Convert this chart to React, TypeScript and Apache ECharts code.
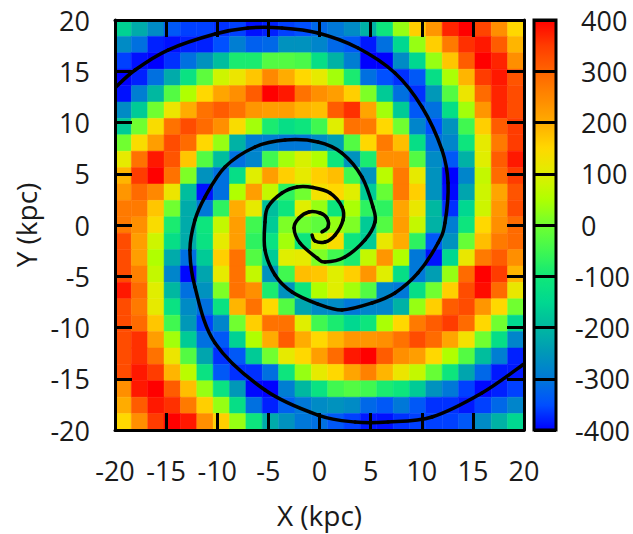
import React, { useEffect, useRef } from "react";
import * as echarts from "echarts";

const xTicks = { min: -20, max: 20, step: 5 };
const cbTicks = { min: -400, max: 400, step: 100 };
const cellSize = 1.6;
const axisFont = "'Open Sans', sans-serif";
const colorStops = [
  "#0000ff", "#0050ff", "#0078d8", "#0098b8", "#00b8a0", "#00d890", "#10e878", "#40f850", "#70ff30",
  "#b0ff00", "#e0ee00", "#ffd800", "#ffac00", "#ff8800", "#ff6400", "#ff3c00", "#ff0000",
];

// rows from top (y=+20) to bottom (y=-20), columns from x=-20 to x=+20
const heatRows = [
  [-160,-220,-270,-340,-360,-360,-370,-360,-390,-380,-360,-350,-320,-300,-270,-210,-110,30,160,230,370,400,340,240,150],
  [-270,-310,-380,-390,-380,-380,-350,-290,-330,-320,-260,-260,-280,-320,-340,-385,-310,-150,30,160,270,360,380,310,190],
  [-360,-390,-400,-370,-310,-260,-190,-90,-90,-30,-30,-40,-130,-210,-290,-400,-400,-270,-150,30,170,310,400,370,240],
  [-400,-380,-310,-220,-120,-20,80,120,170,250,200,150,110,40,-90,-310,-350,-370,-340,-130,45,190,350,380,320],
  [-390,-290,-200,-30,50,150,210,240,310,400,380,280,240,220,160,10,-170,-310,-370,-250,-30,120,290,370,330],
  [-270,-170,0,120,200,280,310,280,230,220,220,190,180,310,360,210,40,-170,-340,-310,-130,40,230,370,330],
  [-170,0,140,280,330,290,240,140,40,-90,-130,-110,-50,100,280,270,150,0,-280,-350,-260,-50,160,310,350],
  [0,140,220,330,290,150,30,-210,-290,-290,-300,-300,-270,-240,-30,150,270,180,-130,-310,-280,-110,110,270,350],
  [110,280,380,320,170,-30,-190,-310,-280,-50,40,90,50,-110,-260,-90,240,240,-30,-270,-340,-210,100,310,380],
  [190,350,400,280,10,-260,-310,-130,100,220,160,110,160,180,-50,-260,60,270,110,-260,-400,-280,70,290,350],
  [230,290,250,120,-190,-390,-310,50,220,70,-70,0,130,150,100,-170,-10,270,160,-260,-395,-230,80,210,320],
  [270,270,170,0,-220,-300,-70,200,110,-190,-110,100,30,-110,45,-70,-70,210,115,-200,-370,-150,80,230,330],
  [270,240,140,-90,-220,-110,70,220,-50,-170,10,0,-20,30,10,-170,-30,220,70,-210,-290,-110,150,240,290],
  [330,220,80,-130,-220,-120,110,220,-70,-120,40,-110,80,140,-110,-170,115,200,-70,-340,-260,-10,180,270,290],
  [330,220,50,-220,-310,-170,160,280,-30,-170,100,110,10,-50,-90,70,230,50,-300,-390,-150,115,270,310,240],
  [330,260,70,-280,-395,-230,110,280,70,-260,-50,180,170,100,160,230,100,-130,-300,-240,30,290,400,350,190],
  [380,290,100,-200,-310,-260,10,280,240,-90,-260,-110,50,100,40,-30,-280,-300,-130,0,160,330,390,290,115],
  [330,270,110,-120,-270,-310,-120,190,280,150,-30,-230,-270,-270,-300,-280,-280,-210,30,160,310,330,230,150,0],
  [330,290,170,-50,-250,-360,-280,0,160,280,280,100,-50,-90,-150,-110,45,150,270,310,350,290,150,0,-150],
  [330,360,220,40,-170,-310,-340,-160,50,200,310,200,150,190,230,230,240,280,330,290,210,130,0,-130,-280],
  [330,360,280,120,-30,-230,-370,-340,-170,0,110,150,220,290,380,400,310,240,220,150,50,-30,-190,-290,-380],
  [330,380,350,190,60,-120,-340,-370,-370,-310,-110,30,110,150,210,260,190,120,70,-10,-110,-230,-320,-385,-385],
  [240,380,400,310,180,30,-120,-250,-395,-400,-290,-200,-120,-50,-30,-50,-90,-110,-170,-260,-300,-360,-395,-380,-360],
  [200,310,380,360,270,160,30,-130,-310,-380,-330,-300,-270,-260,-270,-320,-340,-300,-340,-370,-370,-385,-360,-320,-280],
  [150,240,350,400,380,240,160,30,-110,-220,-260,-300,-310,-340,-360,-385,-390,-370,-360,-360,-360,-340,-270,-210,-150],
];

const armA = [
  [-20,13.37],[-18.04,15.12],[-14.82,17.07],[-10.22,18.63],[-6.99,19.22],[-3.67,19.22],[-0.15,18.73],[3.77,17.27],
  [7.38,14.83],[10.02,11.51],[11.98,7.32],[12.57,4.1],[12.27,0.2],[11.59,-1.76],[9.63,-4.68],[7.38,-6.63],[5.13,-7.61],
  [2.2,-8.29],[-0.15,-7.71],[-2.69,-6.54],[-4.35,-4.88],[-5.33,-2.44],[-5.33,0.29],[-5.04,1.76],[-3.67,3.12],[-2.2,3.71],
  [-0.64,3.66],[1.03,3.12],[2.2,1.76],[2.3,0.49],[1.52,-0.98],[0.54,-1.66],[-0.44,-1.56],[-0.73,-0.98],
];
const armB = [
  [20,-13.56],[15.89,-16.39],[11,-18.73],[6.7,-19.22],[3.47,-19.22],[-0.15,-18.54],[-5.33,-16.1],[-10.22,-11.51],
  [-12.18,-6.05],[-12.67,-2.44],[-12.18,0.49],[-11.2,2.73],[-9.24,5.66],[-6.31,7.61],[-3.37,8.29],[-0.15,8.1],[2.2,7.02],
  [4.16,4.68],[5.23,1.76],[5.43,0.29],[4.45,-1.46],[2.49,-3.12],[0.54,-3.61],[-0.24,-3.22],[-1.91,-1.76],[-2.49,-0.29],
  [-2,0.68],[-1.03,1.27],[0.05,1.17],[0.73,0.68],[0.83,-0.2],[0.24,-0.68],
];

const heatData = heatRows.flatMap((row, r) =>
  row.map((v, c) => [-20 + cellSize * (c + 0.5), 20 - cellSize * (r + 0.5), v])
);

const frame = { onZero: false, lineStyle: { color: "#000", width: 3 } };
const tick = { show: true, inside: true, length: 17, lineStyle: { color: "#000", width: 3 } };
const label = { color: "#1a1a1a", fontFamily: axisFont, fontSize: 27 };
const nameStyle = { ...label, fontSize: 28 };

// one smooth segment of a read-off curve per data point, placed by the axes
function armSeries(arm: number[][]) {
  return {
    type: "custom",
    xAxisIndex: 0,
    yAxisIndex: 0,
    data: arm,
    encode: { x: 0, y: 1 },
    clip: true,
    silent: true,
    z: 3,
    renderItem: (params: any, api: any) => {
      const i = params.dataIndex;
      if (i >= arm.length - 1) return null;
      const p0 = api.coord(arm[Math.max(i - 1, 0)]);
      const p1 = api.coord(arm[i]);
      const p2 = api.coord(arm[i + 1]);
      const p3 = api.coord(arm[Math.min(i + 2, arm.length - 1)]);
      return {
        type: "bezierCurve",
        shape: {
          x1: p1[0], y1: p1[1], x2: p2[0], y2: p2[1],
          cpx1: p1[0] + (p2[0] - p0[0]) / 6, cpy1: p1[1] + (p2[1] - p0[1]) / 6,
          cpx2: p2[0] - (p3[0] - p1[0]) / 6, cpy2: p2[1] - (p3[1] - p1[1]) / 6,
        },
        style: { fill: "none", stroke: "#000", lineWidth: 3.5, lineCap: "round" },
      };
    },
  };
}

export default function App() {
  const ref = useRef<HTMLDivElement>(null);
  useEffect(() => {
    const chart = echarts.init(ref.current!, null, { renderer: "svg" });
    const baseX = { type: "value", min: xTicks.min, max: xTicks.max, interval: xTicks.step, splitLine: { show: false }, z: 5 };
    chart.setOption({
      animation: false,
      backgroundColor: "#fff",
      grid: [
        { left: 115, top: 20, width: 409, height: 410, outerBoundsMode: "none" },
        { left: 534, top: 20, width: 22, height: 410, outerBoundsMode: "none", show: true, borderColor: "#000", borderWidth: 3, backgroundColor: "transparent", z: 6 },
      ],
      visualMap: {
        type: "continuous",
        min: cbTicks.min,
        max: cbTicks.max,
        dimension: 2,
        seriesIndex: 0,
        left: 534,
        top: 20,
        padding: 0,
        itemWidth: 22,
        itemHeight: 410,
        calculable: false,
        hoverLink: false,
        inRange: { color: colorStops },
      },
      xAxis: [
        {
          ...baseX, gridIndex: 0, position: "bottom",
          axisLine: { show: true, ...frame }, axisTick: tick,
          axisLabel: { ...label, margin: 27 },
          name: "X (kpc)", nameLocation: "middle", nameGap: 71,
          nameTextStyle: nameStyle,
        },
        { ...baseX, gridIndex: 0, position: "top", axisLine: { show: true, ...frame }, axisTick: tick, axisLabel: { show: false } },
        { type: "value", gridIndex: 1, min: 0, max: 1, show: false },
      ],
      yAxis: [
        {
          ...baseX, gridIndex: 0, position: "left",
          axisLine: { show: true, ...frame }, axisTick: tick,
          axisLabel: { ...label, margin: 25 },
          name: "Y (kpc)", nameLocation: "middle", nameGap: 74,
          nameTextStyle: nameStyle,
        },
        { ...baseX, gridIndex: 0, position: "right", axisLine: { show: true, ...frame }, axisTick: tick, axisLabel: { show: false } },
        {
          type: "value", gridIndex: 1, position: "right", z: 7,
          min: cbTicks.min, max: cbTicks.max, interval: cbTicks.step,
          axisLine: { show: false, onZero: false }, axisTick: { show: false },
          splitLine: { show: true, lineStyle: { color: "#000", width: 3 } },
          axisLabel: {
            ...label, margin: 19, align: "left",
            formatter: (v: number) => (v < 0 ? `${v}` : `{p|${v}}`),
            rich: { p: { ...label, padding: [0, 0, 0, 6] } },
          },
        },
      ],
      series: [
        {
          type: "custom",
          xAxisIndex: 0,
          yAxisIndex: 0,
          data: heatData,
          encode: { x: 0, y: 1 },
          z: 2,
          clip: true,
          silent: true,
          renderItem: (_: any, api: any) => {
            const x = api.value(0), y = api.value(1);
            const a = api.coord([x - cellSize / 2, y + cellSize / 2]);
            const b = api.coord([x + cellSize / 2, y - cellSize / 2]);
            const fill = api.visual("color");
            return {
              type: "rect",
              shape: { x: a[0], y: a[1], width: b[0] - a[0], height: b[1] - a[1] },
              style: { fill, stroke: fill, lineWidth: 0.5 },
            };
          },
        },
        armSeries(armA),
        armSeries(armB),
      ],
    });
    return () => chart.dispose();
  }, []);
  return <div ref={ref} style={{ position: "absolute", left: 0, top: 0, width: 633, height: 534 }} />;
}
